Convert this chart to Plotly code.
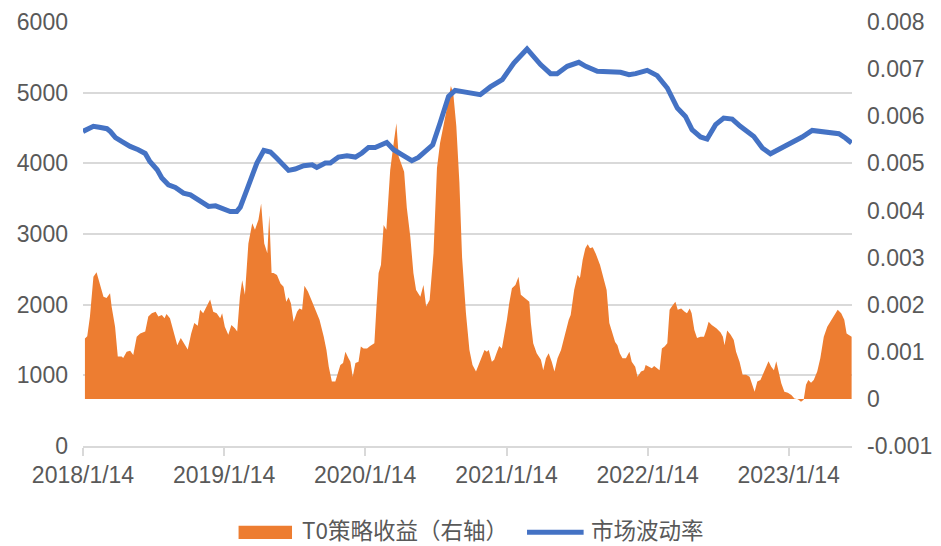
import plotly.graph_objects as go

# ---- T0 strategy return (right axis) ----
t0_dates = [
    "2018-01-19", "2018-01-25", "2018-02-01", "2018-02-10", "2018-02-18", "2018-02-27", "2018-03-08", "2018-03-16",
    "2018-03-25", "2018-03-29", "2018-04-07", "2018-04-14", "2018-04-24", "2018-04-28", "2018-05-07", "2018-05-16",
    "2018-05-24", "2018-06-02", "2018-06-11", "2018-06-24", "2018-07-02", "2018-07-11", "2018-07-21", "2018-07-28",
    "2018-08-06", "2018-08-13", "2018-08-18", "2018-08-27", "2018-09-05", "2018-09-15", "2018-09-24", "2018-10-03",
    "2018-10-12", "2018-10-21", "2018-10-29", "2018-11-07", "2018-11-13", "2018-11-21", "2018-11-30", "2018-12-09",
    "2018-12-17", "2018-12-26", "2019-01-04", "2019-01-09", "2019-01-16", "2019-01-25", "2019-02-02", "2019-02-11",
    "2019-02-17", "2019-02-24", "2019-03-02", "2019-03-09", "2019-03-18", "2019-03-28", "2019-04-04", "2019-04-13",
    "2019-04-20", "2019-04-28", "2019-05-06", "2019-05-11", "2019-05-17", "2019-05-22", "2019-05-31", "2019-06-09",
    "2019-06-17", "2019-06-24", "2019-06-30", "2019-07-06", "2019-07-13", "2019-07-22", "2019-07-28", "2019-08-04",
    "2019-08-10", "2019-08-19", "2019-08-30", "2019-09-07", "2019-09-18", "2019-09-29", "2019-10-06", "2019-10-12",
    "2019-10-20", "2019-10-29", "2019-11-02", "2019-11-11", "2019-11-18", "2019-11-24", "2019-12-02", "2019-12-07",
    "2019-12-13", "2019-12-20", "2019-12-28", "2020-01-03", "2020-01-10", "2020-01-19", "2020-01-27", "2020-02-07",
    "2020-02-12", "2020-02-18", "2020-02-24", "2020-03-02", "2020-03-09", "2020-03-19", "2020-03-28", "2020-04-04",
    "2020-04-10", "2020-04-18", "2020-04-24", "2020-05-01", "2020-05-10", "2020-05-18", "2020-05-25", "2020-06-05",
    "2020-06-13", "2020-06-20", "2020-06-29", "2020-07-09", "2020-07-18", "2020-07-26", "2020-08-04", "2020-08-11",
    "2020-08-23", "2020-08-29", "2020-09-06", "2020-09-14", "2020-09-21", "2020-10-01", "2020-10-10", "2020-10-18",
    "2020-10-27", "2020-11-05", "2020-11-13", "2020-11-18", "2020-11-24", "2020-11-29", "2020-12-07", "2020-12-13",
    "2020-12-19", "2020-12-26", "2021-01-02", "2021-01-08", "2021-01-15", "2021-01-21", "2021-01-28", "2021-02-06",
    "2021-02-14", "2021-02-20", "2021-03-01", "2021-03-14", "2021-03-18", "2021-03-24", "2021-04-02", "2021-04-13",
    "2021-04-19", "2021-04-26", "2021-05-03", "2021-05-11", "2021-05-18", "2021-05-26", "2021-06-04", "2021-06-12",
    "2021-06-24", "2021-06-29", "2021-07-08", "2021-07-17", "2021-07-23", "2021-07-30", "2021-08-06", "2021-08-12",
    "2021-08-18", "2021-08-25", "2021-09-02", "2021-09-13", "2021-09-21", "2021-09-30", "2021-10-07", "2021-10-14",
    "2021-10-22", "2021-10-28", "2021-11-03", "2021-11-10", "2021-11-19", "2021-11-28", "2021-12-04", "2021-12-13",
    "2021-12-19", "2021-12-28", "2022-01-05", "2022-01-09", "2022-01-18", "2022-01-25", "2022-01-31", "2022-02-09",
    "2022-02-14", "2022-02-20", "2022-02-27", "2022-03-06", "2022-03-12", "2022-03-20", "2022-03-27", "2022-04-02",
    "2022-04-11", "2022-04-20", "2022-04-26", "2022-05-03", "2022-05-08", "2022-05-15", "2022-05-22", "2022-05-31",
    "2022-06-09", "2022-06-15", "2022-06-21", "2022-06-29", "2022-07-11", "2022-07-22", "2022-07-28", "2022-08-01",
    "2022-08-08", "2022-08-17", "2022-08-25", "2022-08-31", "2022-09-09", "2022-09-17", "2022-09-26", "2022-10-05",
    "2022-10-11", "2022-10-18", "2022-10-25", "2022-11-02", "2022-11-08", "2022-11-17", "2022-11-23", "2022-11-30",
    "2022-12-07", "2022-12-13", "2022-12-19", "2022-12-26", "2023-01-03", "2023-01-12", "2023-01-21", "2023-01-29",
    "2023-02-07", "2023-02-15", "2023-02-22", "2023-02-28", "2023-03-06", "2023-03-13", "2023-03-20", "2023-03-29",
    "2023-04-06", "2023-04-15", "2023-04-24", "2023-05-02", "2023-05-11", "2023-05-21", "2023-05-30", "2023-06-07",
    "2023-06-13", "2023-06-20", "2023-06-26",
]
t0_values = [
    0.00128, 0.00133, 0.00175, 0.00259, 0.00269, 0.00245, 0.00217, 0.00214,
    0.00224, 0.00196, 0.00153, 0.00090, 0.00090, 0.00087, 0.00100, 0.00102,
    0.00093, 0.00132, 0.00139, 0.00143, 0.00175, 0.00182, 0.00185, 0.00175,
    0.00178, 0.00171, 0.00180, 0.00171, 0.00143, 0.00114, 0.00129, 0.00118,
    0.00105, 0.00139, 0.00161, 0.00155, 0.00189, 0.00182, 0.00196, 0.00211,
    0.00185, 0.00182, 0.00171, 0.00182, 0.00153, 0.00136, 0.00157, 0.00150,
    0.00143, 0.00217, 0.00252, 0.00221, 0.00330, 0.00373, 0.00359, 0.00380,
    0.00415, 0.00330, 0.00309, 0.00390, 0.00267, 0.00267, 0.00263, 0.00245,
    0.00238, 0.00206, 0.00216, 0.00203, 0.00164, 0.00185, 0.00192, 0.00189,
    0.00240, 0.00228, 0.00206, 0.00189, 0.00168, 0.00132, 0.00104, 0.00068,
    0.00037, 0.00037, 0.00047, 0.00072, 0.00076, 0.00100, 0.00086, 0.00079,
    0.00047, 0.00076, 0.00079, 0.00111, 0.00107, 0.00107, 0.00112, 0.00118,
    0.00189, 0.00267, 0.00284, 0.00369, 0.00359, 0.00486, 0.00543, 0.00585,
    0.00514, 0.00497, 0.00482, 0.00405, 0.00344, 0.00267, 0.00231, 0.00217,
    0.00242, 0.00196, 0.00210, 0.00309, 0.00490, 0.00543, 0.00578, 0.00610,
    0.00664, 0.00650, 0.00580, 0.00460, 0.00300, 0.00182, 0.00104, 0.00072,
    0.00058, 0.00076, 0.00093, 0.00104, 0.00100, 0.00104, 0.00079, 0.00083,
    0.00097, 0.00112, 0.00107, 0.00132, 0.00168, 0.00203, 0.00235, 0.00242,
    0.00259, 0.00221, 0.00214, 0.00206, 0.00161, 0.00118, 0.00097, 0.00083,
    0.00061, 0.00086, 0.00097, 0.00079, 0.00058, 0.00086, 0.00104, 0.00132,
    0.00168, 0.00178, 0.00231, 0.00263, 0.00256, 0.00295, 0.00320, 0.00328,
    0.00320, 0.00322, 0.00308, 0.00284, 0.00256, 0.00231, 0.00161, 0.00143,
    0.00121, 0.00114, 0.00097, 0.00086, 0.00086, 0.00100, 0.00079, 0.00068,
    0.00047, 0.00058, 0.00061, 0.00072, 0.00068, 0.00065, 0.00070, 0.00065,
    0.00061, 0.00107, 0.00111, 0.00118, 0.00189, 0.00199, 0.00206, 0.00189,
    0.00192, 0.00185, 0.00182, 0.00192, 0.00182, 0.00146, 0.00129, 0.00132,
    0.00132, 0.00146, 0.00164, 0.00157, 0.00150, 0.00141, 0.00132, 0.00114,
    0.00145, 0.00136, 0.00125, 0.00100, 0.00079, 0.00051, 0.00051, 0.00047,
    0.00033, 0.00015, 0.00037, 0.00040, 0.00051, 0.00068, 0.00080, 0.00068,
    0.00061, 0.00080, 0.00061, 0.00033, 0.00015, 0.00013, 0.00008, 0.00001,
    -0.00001, -0.00006, -0.00002, 0.00030, 0.00040, 0.00034, 0.00040, 0.00058,
    0.00086, 0.00132, 0.00153, 0.00164, 0.00178, 0.00189, 0.00182, 0.00168,
    0.00139, 0.00136, 0.00132,
]

# ---- market volatility line (left axis) ----
vol_dates = [
    "2018-01-14", "2018-01-28", "2018-02-10", "2018-02-25", "2018-03-17", "2018-03-26", "2018-04-08", "2018-04-24",
    "2018-05-16", "2018-06-06", "2018-06-24", "2018-07-06", "2018-07-25", "2018-08-06", "2018-08-23", "2018-09-10",
    "2018-10-01", "2018-10-19", "2018-11-14", "2018-12-05", "2018-12-23", "2019-01-13", "2019-01-30", "2019-02-16",
    "2019-02-25", "2019-03-14", "2019-04-09", "2019-04-27", "2019-05-14", "2019-05-30", "2019-06-08", "2019-06-30",
    "2019-07-17", "2019-08-08", "2019-08-30", "2019-09-11", "2019-10-03", "2019-10-16", "2019-11-06", "2019-11-28",
    "2019-12-20", "2020-01-06", "2020-01-23", "2020-02-09", "2020-03-10", "2020-03-28", "2020-04-18", "2020-05-14",
    "2020-05-31", "2020-06-18", "2020-07-07", "2020-07-26", "2020-08-17", "2020-09-03", "2020-09-25", "2020-10-12",
    "2020-11-07", "2020-12-03", "2021-01-03", "2021-02-02", "2021-03-08", "2021-04-12", "2021-05-08", "2021-05-25",
    "2021-06-20", "2021-07-20", "2021-08-07", "2021-09-06", "2021-10-10", "2021-11-05", "2021-11-27", "2021-12-14",
    "2022-01-13", "2022-02-08", "2022-03-06", "2022-04-01", "2022-04-22", "2022-05-09", "2022-05-31", "2022-06-17",
    "2022-07-09", "2022-07-30", "2022-08-21", "2022-09-11", "2022-10-16", "2022-11-07", "2022-11-28", "2022-12-28",
    "2023-01-19", "2023-02-18", "2023-03-16", "2023-04-02", "2023-04-28", "2023-05-24", "2023-06-10", "2023-06-26",
]
vol_values = [
    4452, 4500, 4524, 4510, 4490, 4450, 4365, 4310,
    4239, 4193, 4140, 4027, 3909, 3792, 3697, 3660,
    3579, 3555, 3460, 3390, 3399, 3352, 3319, 3320,
    3380, 3626, 4004, 4183, 4160, 4075, 4027, 3900,
    3919, 3966, 3980, 3942, 4004, 4004, 4089, 4108,
    4089, 4146, 4225, 4225, 4296, 4193, 4122, 4037,
    4084, 4169, 4263, 4571, 4948, 5033, 5018, 4990,
    4972, 5081, 5184, 5420, 5619, 5397, 5269, 5269,
    5373, 5429, 5373, 5302, 5288, 5288, 5255, 5269,
    5316, 5241, 5066, 4783, 4664, 4476, 4373, 4344,
    4547, 4641, 4627, 4523, 4381, 4217, 4136, 4217,
    4278, 4373, 4466, 4452, 4438, 4419, 4358, 4288,
]

# ---- axis ticks ----
x_tick_dates = ["2018-01-14", "2019-01-14", "2020-01-14", "2021-01-14", "2022-01-14", "2023-01-14"]
x_tick_labels = ["2018/1/14", "2019/1/14", "2020/1/14", "2021/1/14", "2022/1/14", "2023/1/14"]
right_tick_vals = [-0.001, 0, 0.001, 0.002, 0.003, 0.004, 0.005, 0.006, 0.007, 0.008]
right_tick_labels = ["-0.001", "0", "0.001", "0.002", "0.003", "0.004", "0.005", "0.006", "0.007", "0.008"]
left_tick_vals = [0, 1000, 2000, 3000, 4000, 5000, 6000]

ORANGE = "#ED7D31"
BLUE = "#4472C4"
GRID = "#D9D9D9"
TEXT = "#595959"
FONT = "Liberation Sans, Arial, Noto Sans CJK SC, sans-serif"
CJK_FONT = "Noto Sans CJK SC, Liberation Sans, sans-serif"

fig = go.Figure()
fig.add_trace(go.Scatter(
    x=t0_dates, y=t0_values, name="T0策略收益（右轴）", mode="lines",
    line=dict(width=0, color=ORANGE), fill="tozeroy", fillcolor=ORANGE,
    yaxis="y", showlegend=False,
))
fig.add_trace(go.Scatter(
    x=vol_dates, y=vol_values, name="市场波动率", mode="lines",
    line=dict(width=5, color=BLUE), yaxis="y2", showlegend=False,
))

fig.update_layout(
    width=941, height=546,
    margin=dict(l=83, r=89, t=22, b=100, autoexpand=False),
    paper_bgcolor="white", plot_bgcolor="white",
    font=dict(family=FONT, size=23, color=TEXT),
    xaxis=dict(
        type="date", range=["2018-01-14", "2023-06-27"],
        tickvals=x_tick_dates, ticktext=x_tick_labels,
        showgrid=False, zeroline=False,
        showline=True, linecolor=GRID, linewidth=1.5,
        ticks="outside", ticklen=8, tickcolor=GRID, tickwidth=1.5,
        tickfont=dict(size=23, color=TEXT),
    ),
    yaxis=dict(
        side="right", range=[-0.001, 0.008],
        tickvals=right_tick_vals, ticktext=right_tick_labels,
        showgrid=False, zeroline=False, showline=False,
        ticklabelstandoff=14,
        tickfont=dict(size=23, color=TEXT),
    ),
    yaxis2=dict(
        overlaying="y", side="left", range=[0, 6000],
        tickvals=left_tick_vals,
        showgrid=True, gridcolor=GRID, gridwidth=1.5,
        zeroline=False, showline=False,
        ticklabelstandoff=14,
        tickfont=dict(size=23, color=TEXT),
    ),
)

# custom legend (swatches + real text)
fig.add_shape(type="rect", xref="paper", yref="paper",
              x0=0.2023, x1=0.2718, y0=-0.2195, y1=-0.1881,
              fillcolor=ORANGE, line=dict(width=0))
fig.add_shape(type="line", xref="paper", yref="paper",
              x0=0.5774, x1=0.651, y0=-0.2037, y1=-0.2037,
              line=dict(color=BLUE, width=5))
fig.add_annotation(xref="paper", yref="paper", x=0.2839, y=-0.1959,
                   xanchor="left", yanchor="middle", showarrow=False,
                   borderpad=0,
                   text="T0策略收益（右轴）", font=dict(family=CJK_FONT, size=22.5, color=TEXT))
fig.add_annotation(xref="paper", yref="paper", x=0.6597, y=-0.1959,
                   xanchor="left", yanchor="middle", showarrow=False,
                   borderpad=0,
                   text="市场波动率", font=dict(family=CJK_FONT, size=22.5, color=TEXT))

fig.write_html("out.html", config={"displayModeBar": False},
               post_script="document.body.style.margin='0';")
